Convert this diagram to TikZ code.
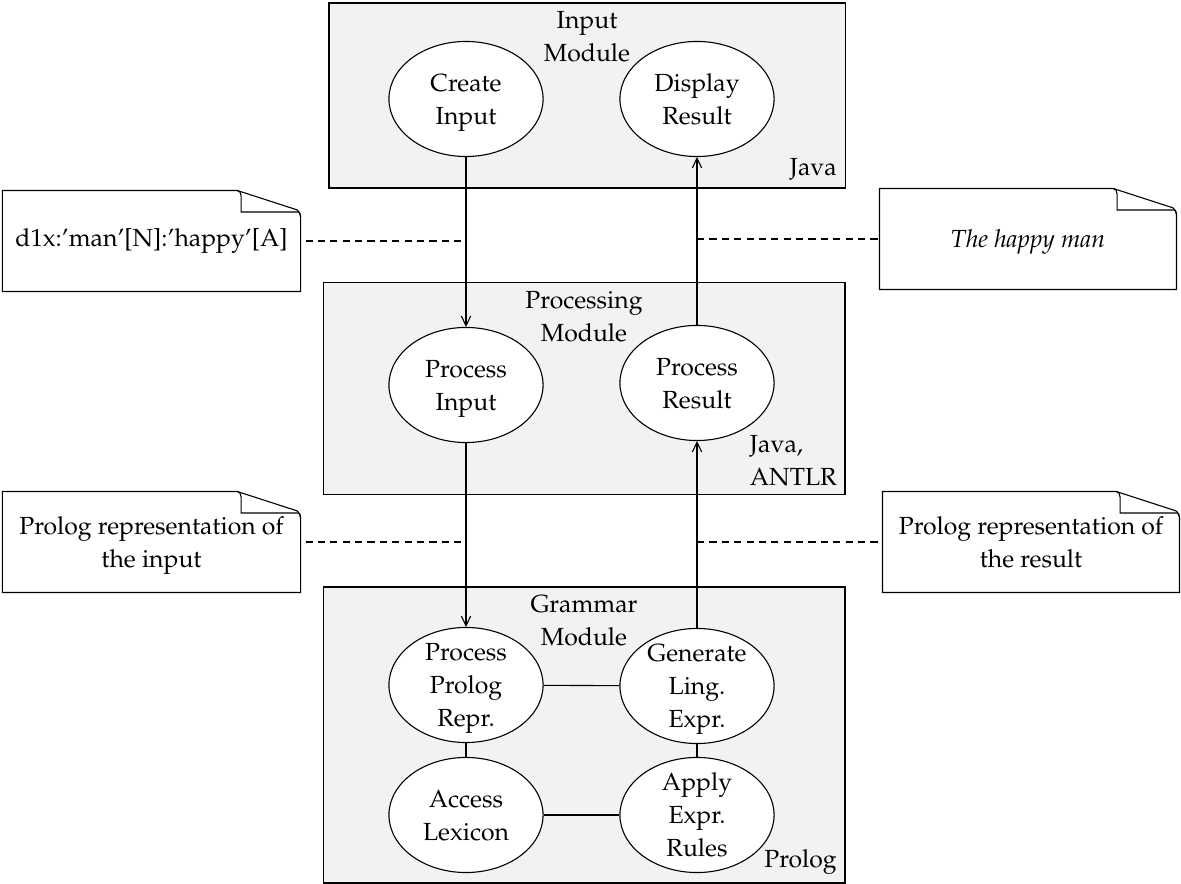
\documentclass[tikz,border=0pt]{standalone}
\usepackage[T1]{fontenc}
\usepackage{mathpazo}
\usepackage{tikz}
\usetikzlibrary{arrows.meta,shapes.geometric}
\tikzset{
  module/.style={draw=black, fill=black!5, inner sep=0pt},
  proc/.style={ellipse, draw=black, fill=white, align=center, inner sep=-2pt, minimum width=56pt, minimum height=41.8pt, text depth=-4pt},
  notebox/.style={align=center, inner sep=0pt, minimum width=107.9pt, minimum height=36.3pt},
  lowtext/.style={text depth=-4pt},
  arrow/.style={-{Straight Barb[length=3.5pt,width=3.4pt]}, line width=0.4pt},
  link/.style={line width=0.4pt},
  dashline/.style={line width=0.4pt, dash pattern=on 2.6pt off 1.9pt}
}
% note with a turned-down corner
\newcommand{\notepage}[1]{%
  \draw (#1.north west) -- ([xshift=-23pt]#1.north east) coordinate (#1-a)
    .. controls +(0.9pt,0) and +(0,1pt) .. ([xshift=-21.6pt,yshift=-2pt]#1.north east)
    |- ([xshift=-0.8pt,yshift=-7.8pt]#1.north east)
    .. controls +(0.5pt,0) and +(0,0.8pt) .. ([yshift=-9.6pt]#1.north east)
    -- (#1.south east) -- (#1.south west) -- cycle;
  \draw (#1-a) -- ([xshift=-1.4pt,yshift=-7pt]#1.north east)
    .. controls +(0.9pt,-0.4pt) and +(0,0.6pt) .. ([yshift=-9.6pt]#1.north east);
}

\begin{document}
\begin{tikzpicture}[x=0.3633pt, y=-0.3633pt,
  font=\fontsize{9}{12}\selectfont,
  mtitle/.style={anchor=north, align=center, inner sep=3pt},
  tech/.style={anchor=south east, align=left, inner sep=3pt}
]
\useasboundingbox (0,0) rectangle (1181,884);
% modules
\node[module, minimum width=187.5pt, minimum height=67.2pt] (inmod) at (587,95.5) {};
\node[module, minimum width=189.6pt, minimum height=76.7pt] (procmod) at (584,388.5) {};
\node[module, minimum width=189.6pt, minimum height=107.5pt] (grammod) at (584,735) {};
\node[mtitle] at (inmod.north) {Input\\Module};
\node[mtitle] at (procmod.north) {Processing\\Module};
\node[mtitle] at (grammod.north) {Grammar\\Module};
\node[tech] at (inmod.south east) {Java};
\node[tech] at (procmod.south east) {Java,\\ANTLR};
\node[tech] at (grammod.south east) {Prolog};
% processes
\node[proc] (cin) at (466,99) {Create\\Input};
\node[proc] (dres) at (697,99) {Display\\Result};
\node[proc] (pin) at (466,385) {Process\\Input};
\node[proc] (pres) at (697,383) {Process\\Result};
\node[proc] (ppr) at (466,685) {Process\\Prolog\\Repr.};
\node[proc] (gen) at (697,686) {Generate\\Ling.\\Expr.};
\node[proc] (lex) at (466,815) {Access\\Lexicon};
\node[proc] (app) at (697,815) {Apply\\Expr.\\Rules};
% notes
\node[notebox] (nin) at (151.5,241) {d1x:'man'[N]:'happy'[A]};
\node[notebox, lowtext, minimum width=107.5pt] (nout) at (1028,239) {\itshape The happy man};
\node[notebox, lowtext] (pin-note) at (151.5,542) {Prolog representation of\\the input};
\node[notebox, lowtext, minimum width=107.5pt] (pres-note) at (1031,542) {Prolog representation of\\the result};
\notepage{nin}
\notepage{nout}
\notepage{pin-note}
\notepage{pres-note}
% flow
\draw[arrow] (cin) -- (pin);
\draw[arrow] (pin) -- (ppr);
\draw[arrow] (gen) -- (pres);
\draw[arrow] (pres) -- (dres);
\draw[link] (ppr) -- (gen);
\draw[link] (ppr) -- (lex);
\draw[link] (gen) -- (app);
\draw[link] (lex) -- (app);
\draw[dashline, shorten <=1.8pt] (nin.east) -- (nin.east -| cin.south);
\draw[dashline, shorten <=1.8pt] (pin-note.east) -- (pin-note.east -| pin.south);
\draw[dashline] (nout.west -| dres.south) -- (nout.west);
\draw[dashline] (pres-note.west -| pres.south) -- (pres-note.west);
\end{tikzpicture}
\end{document}
